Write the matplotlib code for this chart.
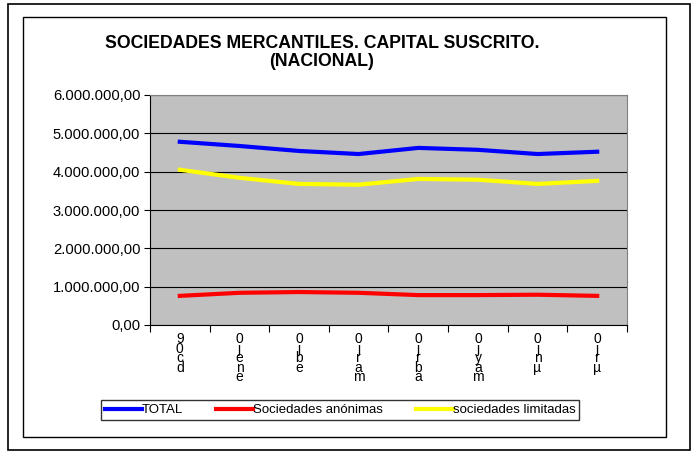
import matplotlib.pyplot as plt
from matplotlib.patches import Rectangle
import numpy as np

plt.rcParams['font.family'] = ['Liberation Sans', 'DejaVu Sans']

# Labels as they appear (stacked characters)
labels = ['9\n0\nc\nd', '0\nj\ne\nn\ne', '0\nj\nb\ne', '0\nj\nr\na\nm',
          '0\nj\nr\nb\na', '0\nj\ny\na\nm', '0\nj\nn\nµ', '0\nj\nr\nµ']
total = [4780000, 4670000, 4540000, 4460000, 4620000, 4570000, 4460000, 4520000]
anonimas = [760000, 840000, 860000, 840000, 780000, 780000, 790000, 760000]
limitadas = [4050000, 3840000, 3680000, 3660000, 3810000, 3790000, 3680000, 3760000]

fig = plt.figure(figsize=(6.96, 4.54), dpi=100)
W, H = 696, 454

# outer and inner frames
fig.add_artist(Rectangle((8 / W, 4 / H), 682 / W, 446 / H, transform=fig.transFigure,
                         fill=False, edgecolor='black', lw=1.2))
fig.add_artist(Rectangle((23 / W, 17 / H), 643 / W, 420 / H, transform=fig.transFigure,
                         fill=False, edgecolor='black', lw=1.0))

ax = fig.add_axes([150 / W, 1 - 325 / H, 477 / W, 230 / H])
ax.set_facecolor('#c0c0c0')
x = np.arange(len(labels))
ax.plot(x, total, color='#0000ff', lw=3, label='TOTAL')
ax.plot(x, anonimas, color='#ff0000', lw=3, label='Sociedades anónimas')
ax.plot(x, limitadas, color='#ffff00', lw=3, label='sociedades limitadas')

ax.set_xlim(-0.5, len(labels) - 0.5)
ax.set_ylim(0, 6000000)
yt = np.arange(0, 6000001, 1000000)
ax.set_yticks(yt)
ax.set_yticklabels([f'{v:,.2f}'.replace(',', 'X').replace('.', ',').replace('X', '.') for v in yt],
                   fontsize=10.6)
ax.grid(axis='y', color='black', lw=0.8)
ax.set_axisbelow(True)
ax.set_xticks(np.arange(-0.5, len(labels), 1))
ax.set_xticklabels([])
ax.set_xticks(x, minor=True)
ax.set_xticklabels(labels, minor=True, fontsize=10, linespacing=0.6, va='top')
ax.tick_params(axis='x', which='minor', length=0, pad=5)
ax.tick_params(axis='x', which='major', length=5, direction='out')
ax.tick_params(axis='y', length=4, direction='out', pad=3)
for s in ax.spines.values():
    s.set_color('#808080')
ax.spines['left'].set_color('black')
ax.spines['bottom'].set_color('black')

fig.text(322 / W, 1 - 44 / H, 'SOCIEDADES MERCANTILES. CAPITAL SUSCRITO.',
         ha='center', va='center', fontsize=12.7, fontweight='bold')
fig.text(322 / W, 1 - 62 / H, '(NACIONAL)', ha='center', va='center',
         fontsize=12.7, fontweight='bold')

leg = fig.legend(loc='center', bbox_to_anchor=(340 / W, 1 - 410 / H), ncol=3,
                 fontsize=9.5, frameon=True, fancybox=False, edgecolor='black',
                 handlelength=2.8, handletextpad=0.0, columnspacing=2.5,
                 borderpad=0.3)
leg.get_frame().set_linewidth(1.0)

fig.savefig('out.png', dpi=100)
